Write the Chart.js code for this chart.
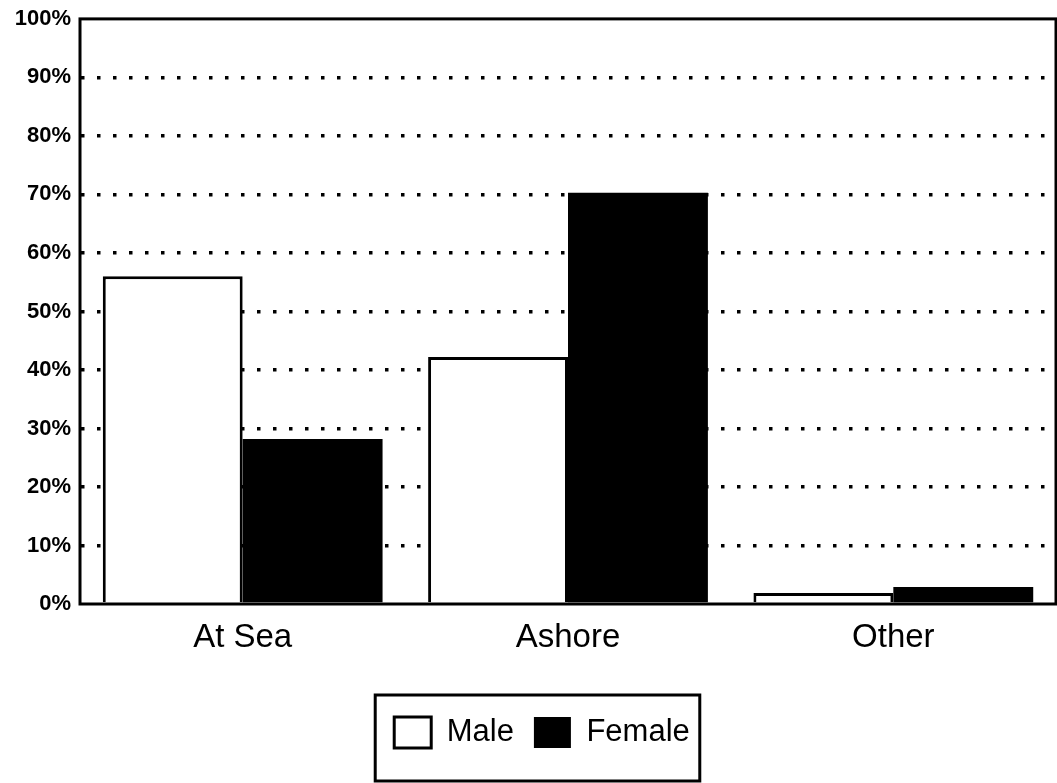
<!DOCTYPE html>
<html>
<head>
<meta charset="utf-8">
<script src="https://cdn.jsdelivr.net/npm/chart.js@4.4.1/dist/chart.umd.min.js"></script>
<style>
  body { margin: 0; background: #fff; }
  #wrap { width: 1057px; height: 783px; }
</style>
</head>
<body>
<div id="wrap"><canvas id="grafico"></canvas></div>
<script>
// Datos
const categorias = ['At Sea', 'Ashore', 'Other'];
const hombres = [56.0, 42.2, 1.9];
const mujeres = [28.2, 70.3, 2.9];
const marcasY = [0, 10, 20, 30, 40, 50, 60, 70, 80, 90, 100];

const ABAJO = 25;     // margen inferior bajo la leyenda
const CORRIMIENTO = 14; // la leyenda del original está algo a la derecha del centro

// Marco negro alrededor del área del gráfico y de la leyenda
const marco = {
  id: 'marco',
  afterUpdate(chart) {
    const ley = chart.legend;
    ley.left += CORRIMIENTO;
    ley.right += CORRIMIENTO;
    (ley.legendHitBoxes || []).forEach(c => { c.left += CORRIMIENTO; });
  },
  afterDatasetsDraw(chart) {
    const a = chart.chartArea;
    const ctx = chart.ctx;
    ctx.save();
    ctx.strokeStyle = '#000';
    ctx.lineWidth = 3;
    ctx.strokeRect(a.left, a.top, a.right - a.left, a.bottom - a.top);
    ctx.restore();
  },
  afterDraw(chart) {
    const cajas = chart.legend.legendHitBoxes;
    if (!cajas || !cajas.length) return;
    const izq = Math.min(...cajas.map(c => c.left));
    const der = Math.max(...cajas.map(c => c.left + c.width));
    const arr = Math.min(...cajas.map(c => c.top));
    const aba = Math.max(...cajas.map(c => c.top + c.height));
    const ctx = chart.ctx;
    ctx.save();
    ctx.strokeStyle = '#000';
    ctx.lineWidth = 3;
    ctx.strokeRect(izq - 19, arr - 22, (der - izq) + 29, (aba - arr) + 55);
    ctx.restore();
  }
};

const ctx = document.getElementById('grafico').getContext('2d');
new Chart(ctx, {
  type: 'bar',
  data: {
    labels: categorias,
    datasets: [
      { label: 'Male', data: hombres, backgroundColor: '#fff', borderColor: '#000', borderWidth: 3 },
      { label: 'Female', data: mujeres, backgroundColor: '#000', borderColor: '#000', borderWidth: 0 }
    ]
  },
  options: {
    responsive: true,
    maintainAspectRatio: false,
    devicePixelRatio: 1,
    animation: false,
    layout: { padding: { top: 10, right: 1, bottom: ABAJO, left: 0 } },
    datasets: { bar: { categoryPercentage: 0.86, barPercentage: 1 } },
    plugins: {
      tooltip: { enabled: false },
      legend: {
        position: 'bottom',
        labels: {
          color: '#000',
          font: { family: 'Liberation Sans, Arial, sans-serif', size: 31 },
          boxWidth: 37,
          boxHeight: 31,
          padding: 20
        }
      }
    },
    scales: {
      x: {
        grid: { display: false },
        border: { display: false },
        ticks: { color: '#000', font: { family: 'Liberation Sans, Arial, sans-serif', size: 33 }, padding: 6 },
        afterFit(scale) {
          scale.height = 783 - 604 - scale.chart.legend.height - ABAJO;
        }
      },
      y: {
        min: 0,
        max: 100,
        afterBuildTicks(scale) { scale.ticks = marcasY.map(v => ({ value: v })); },
        afterFit(scale) { scale.width = 80; },
        grid: {
          drawTicks: false,
          lineWidth: 3.5,
          color: c => (c.tick && (c.tick.value === 0 || c.tick.value === 100)) ? 'rgba(0,0,0,0)' : '#000'
        },
        border: { display: false, dash: [3.5, 12.5], dashOffset: 15 },
        ticks: {
          color: '#000',
          padding: 9,
          font: { family: 'Liberation Sans, Arial, sans-serif', size: 22, weight: 'bold', lineHeight: 0.9 },
          callback: v => v + '%'
        }
      }
    }
  },
  plugins: [marco]
});
</script>
</body>
</html>
